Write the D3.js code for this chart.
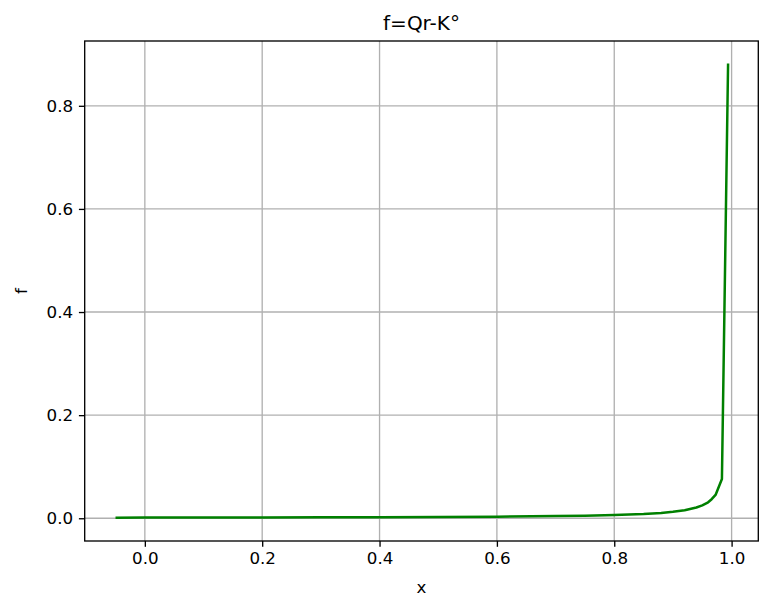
<!DOCTYPE html>
<html>
<head>
<meta charset="utf-8">
<script src="https://cdn.jsdelivr.net/npm/d3@7"></script>
<style>
  body { margin: 0; background: #fff; }
  text { font-family: "DejaVu Sans", sans-serif; fill: #000; }
</style>
</head>
<body>
<svg id="chart" width="768" height="597"></svg>
<script>
const title = "f=Qr-K°";
const xLabel = "x";
const yLabel = "f";
const xTicks = [0.0, 0.2, 0.4, 0.6, 0.8, 1.0];
const yTicks = [0.0, 0.2, 0.4, 0.6, 0.8];
const xValues = [-0.05, 0.0, 0.1, 0.2, 0.3, 0.4, 0.5, 0.6, 0.7, 0.75, 0.8, 0.85, 0.88, 0.9, 0.92, 0.94, 0.95, 0.96, 0.966, 0.973, 0.9835, 0.994];
const fValues = [0.0012, 0.00125, 0.0014, 0.0016, 0.0018, 0.0021, 0.0025, 0.0031, 0.0042, 0.005, 0.0063, 0.0083, 0.0104, 0.0125, 0.0156, 0.0208, 0.025, 0.031, 0.037, 0.046, 0.076, 0.882];

const svg = d3.select("#chart");
const L = 84.7, R = 758.3, T = 41, B = 541;
const x = d3.scaleLinear().domain([-0.1025, 1.0455]).range([L, R]);
const y = d3.scaleLinear().domain([-0.0441, 0.9257]).range([B, T]);

// grid
const g = svg.append("g");
g.selectAll(".gx").data(xTicks).enter().append("line")
  .attr("x1", d => x(d)).attr("x2", d => x(d)).attr("y1", T).attr("y2", B)
  .attr("stroke", "#b0b0b0").attr("stroke-width", 1.33);
g.selectAll(".gy").data(yTicks).enter().append("line")
  .attr("y1", d => y(d)).attr("y2", d => y(d)).attr("x1", L).attr("x2", R)
  .attr("stroke", "#b0b0b0").attr("stroke-width", 1.33);

// line
const data = xValues.map((v, i) => [v, fValues[i]]);
svg.append("path").datum(data)
  .attr("d", d3.line().x(d => x(d[0])).y(d => y(d[1])))
  .attr("fill", "none").attr("stroke", "#008000").attr("stroke-width", 2.5)
  .attr("stroke-linejoin", "round").attr("stroke-linecap", "butt");

// axes
const fmt = d3.format(".1f");
const xa = svg.append("g").attr("transform", `translate(0,${B})`)
  .call(d3.axisBottom(x).tickValues(xTicks).tickFormat(fmt).tickSizeOuter(0).tickSize(5.8).tickPadding(5.8));
const ya = svg.append("g").attr("transform", `translate(${L},0)`)
  .call(d3.axisLeft(y).tickValues(yTicks).tickFormat(fmt).tickSizeOuter(0).tickSize(5.8).tickPadding(5.8));
[xa, ya].forEach(a => {
  a.select(".domain").remove();
  a.selectAll(".tick line").attr("stroke", "#000").attr("stroke-width", 1.33);
  a.selectAll(".tick text").attr("font-family", "DejaVu Sans").attr("font-size", 16.7).attr("fill", "#000");
});

// spines
svg.append("rect").attr("x", L).attr("y", T).attr("width", R - L).attr("height", B - T)
  .attr("fill", "none").attr("stroke", "#000").attr("stroke-width", 1.33);

// labels
svg.append("text").attr("x", (L + R) / 2).attr("y", 30).attr("text-anchor", "middle")
  .attr("font-size", 20).text(title);
svg.append("text").attr("x", (L + R) / 2).attr("y", 593).attr("text-anchor", "middle")
  .attr("font-size", 16.7).text(xLabel);
svg.append("text").attr("transform", `translate(27,${(T + B) / 2}) rotate(-90)`)
  .attr("text-anchor", "middle").attr("font-size", 16.7).text(yLabel);
</script>
</body>
</html>
